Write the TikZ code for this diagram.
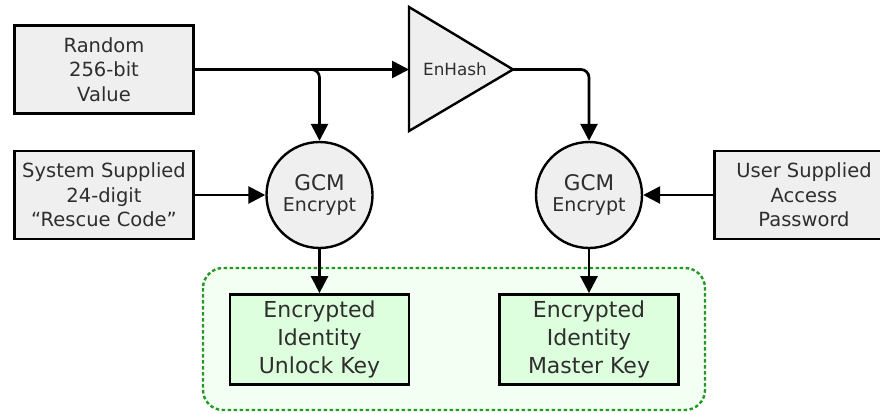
\documentclass[tikz,border=0pt]{standalone}
\usepackage{fontspec}
\setmainfont{DejaVu Sans}
\usetikzlibrary{arrows.meta}

\definecolor{boxgray}{HTML}{EFEFEF}
\definecolor{keygreen}{HTML}{DDFFDD}
\definecolor{groupfill}{HTML}{F2FFF2}
\definecolor{groupline}{HTML}{229922}
\definecolor{ink}{HTML}{2E2E2E}

\tikzset{
  inbox/.style={draw=black, line width=2.8pt, fill=boxgray, text=ink,
    minimum width=179pt, minimum height=88pt, inner sep=0pt, align=center,
    font=\fontsize{19.5}{24.5}\selectfont},
  keybox/.style={inbox, fill=keygreen, minimum height=90pt,
    font=\fontsize{22}{28}\selectfont},
  gcm/.style={circle, draw=black, line width=2.4pt, fill=boxgray, text=ink,
    minimum size=106pt, inner sep=0pt, align=center,
    font=\fontsize{19}{21}\selectfont},
  flow/.style={line width=2.7pt, -{Triangle[length=17pt,width=17pt]}},
  group/.style={draw=groupline, fill=groupfill, line width=2.4pt,
    dash pattern=on 3.5pt off 2.5pt, rounded corners=20pt}
}

\begin{document}
\begin{tikzpicture}[x=1pt, y=-1pt]
  \useasboundingbox (0,0) rectangle (880,413);

  % container around the two encrypted keys
  \draw[group] (203,268) rectangle (705,410);

  % inputs
  \node[inbox] (rand) at (104,69.5) {Random\\256-bit\\Value};
  \node[inbox] (sys) at (104,195) {System Supplied\\24-digit\\“Rescue Code”};
  \node[inbox] (user) at (804,195) {User Supplied\\Access\\Password};

  % hash stage drawn as a triangle
  \coordinate (hashW) at (409,69.5);
  \coordinate (hashT) at (513,69.5);
  \draw[line width=2.4pt, fill=boxgray, line join=miter]
    (409,7) -- (hashT) -- (409,131) -- cycle;
  \node[text=ink, font=\fontsize{16.8}{20}\selectfont] (hash) at (455,69.5) {EnHash};

  % encryption stages
  \node[gcm] (gcm1) at (319.5,195)
    {{\fontsize{21.5}{21}\selectfont GCM}\\Encrypt};
  \node[gcm] (gcm2) at (589,195)
    {{\fontsize{21.5}{21}\selectfont GCM}\\Encrypt};

  % outputs
  \node[keybox] (euk) at (319.5,339.5) {Encrypted\\Identity\\Unlock Key};
  \node[keybox] (eimk) at (589,339.5) {Encrypted\\Identity\\Master Key};

  % connectors
  \draw[flow] (rand.east) -- (hashW);
  \draw[flow, rounded corners=8pt] (rand.east) -| (gcm1.north);
  \draw[flow, rounded corners=8pt] (hashT) -| (gcm2.north);
  \draw[flow] (sys.east) -- (gcm1.west);
  \draw[flow] (user.west) -- (gcm2.east);
  \draw[flow] (gcm1.south) -- (euk.north);
  \draw[flow] (gcm2.south) -- (eimk.north);
\end{tikzpicture}
\end{document}
